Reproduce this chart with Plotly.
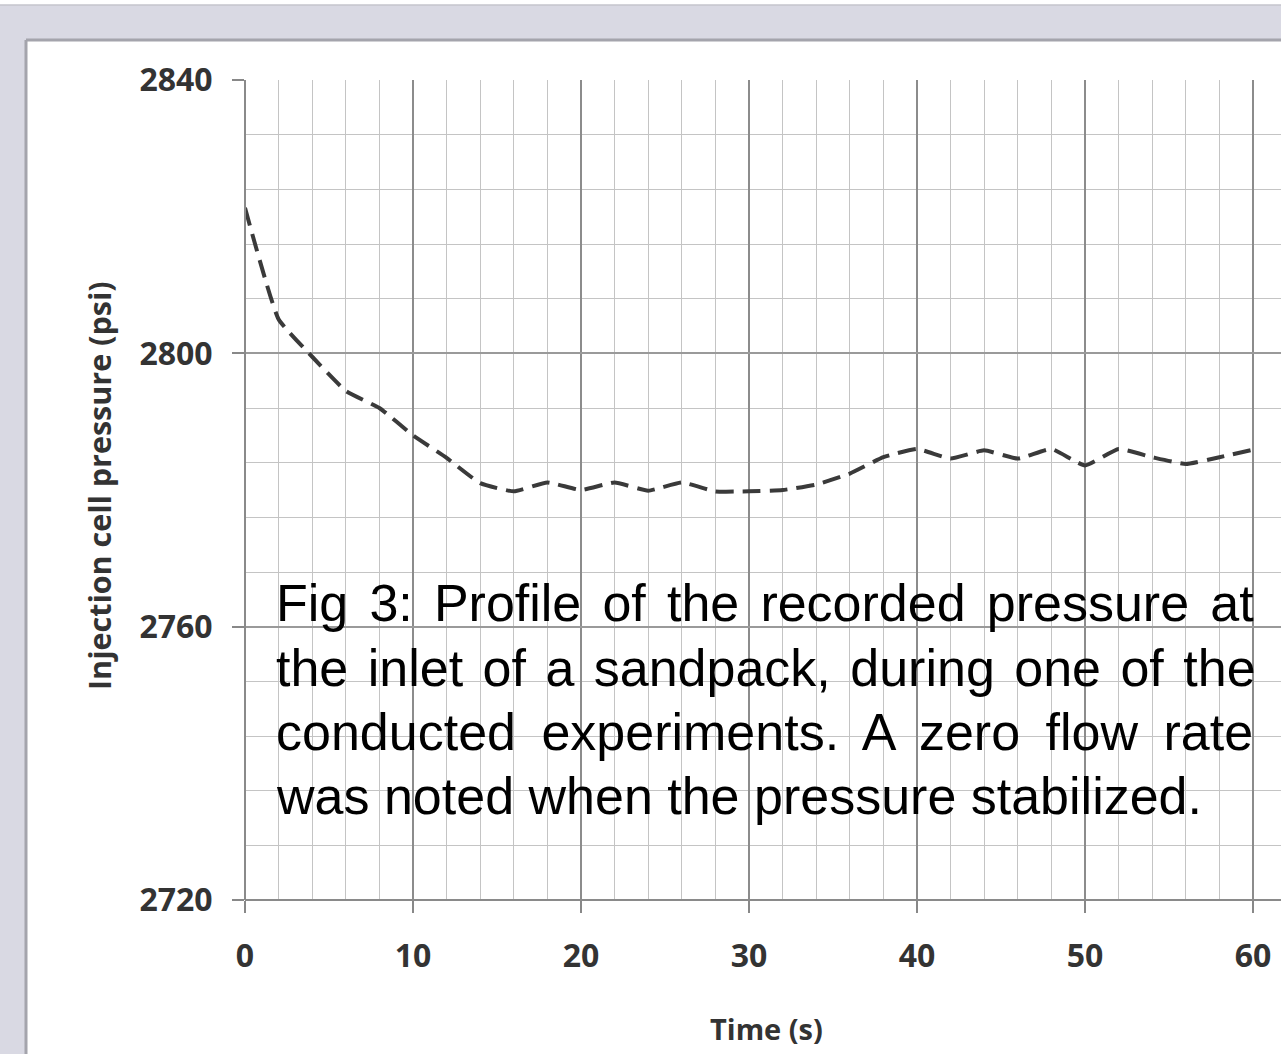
import plotly.graph_objects as go

W, H = 1281, 1054

time_s = [0, 2, 4, 6, 8, 10, 12, 14, 16, 18, 20, 22, 24, 26, 28, 30,
          32, 34, 36, 38, 40, 42, 44, 46, 48, 50, 52, 54, 56, 58, 60]
pressure_psi = [2821.3, 2805.0, 2799.5, 2794.5, 2792.0, 2788.0, 2784.7, 2781.0,
                2779.8, 2781.1, 2780.0, 2781.1, 2779.9, 2781.1, 2779.8, 2779.8,
                2780.0, 2780.8, 2782.4, 2784.8, 2786.0, 2784.6, 2785.8, 2784.6,
                2786.0, 2783.6, 2786.0, 2784.8, 2783.8, 2784.8, 2785.9]

x_ticks = [0, 10, 20, 30, 40, 50, 60]
y_ticks = [2720, 2760, 2800, 2840]

x_title = "Time (s)"
y_title = "Injection cell pressure (psi)"
caption_lines = [
    "Fig 3: Profile of the recorded pressure at",
    "the inlet of a sandpack, during one of the",
    "conducted experiments. A zero flow rate",
    "was noted when the pressure stabilized.",
]

# plot area in pixels
PL, PR, PT, PB = 245, 1281, 80, 900
X0, X1 = 0, 60 * (PR - PL) / (1253 - PL)


def px(xp):
    return xp / W


def py(yp):
    return 1 - yp / H


fig = go.Figure()
fig.add_trace(go.Scatter(
    x=time_s, y=pressure_psi, mode="lines",
    line=dict(color="#3a3a3a", width=4, dash="18px,9px", shape="spline", smoothing=0.4),
    hoverinfo="skip", showlegend=False,
))

tickfont = dict(family="Open Sans, DejaVu Sans, sans-serif", size=32, color="#333333", weight="bold")

fig.update_layout(
    width=W, height=H, autosize=False,
    margin=dict(l=0, r=0, t=0, b=0, pad=0, autoexpand=False),
    paper_bgcolor="white", plot_bgcolor="white",
    showlegend=False,
    xaxis=dict(
        domain=[px(PL), px(PR)], range=[X0, X1], automargin=False,
        tickvals=x_ticks, ticktext=[str(v) for v in x_ticks],
        ticks="outside", ticklen=12, tickwidth=1.5, tickcolor="#888888",
        tickfont=tickfont, ticklabelstandoff=16,
        showgrid=True, gridcolor="#8c8c8c", gridwidth=1.5,
        minor=dict(dtick=2, showgrid=True, gridcolor="#c4c4c4", gridwidth=1.2),
        showline=False, zeroline=False,
    ),
    yaxis=dict(
        domain=[py(PB), py(PT)], range=[2720, 2840], automargin=False,
        tickvals=y_ticks, ticktext=[str(v) for v in y_ticks],
        ticks="outside", ticklen=12, tickwidth=1.5, tickcolor="#888888",
        tickfont=tickfont, ticklabelstandoff=13,
        showgrid=True, gridcolor="#9a9a9a", gridwidth=1.5,
        minor=dict(dtick=8, showgrid=True, gridcolor="#c4c4c4", gridwidth=1.2),
        showline=False, zeroline=False,
    ),
)

shapes = [
    dict(type="rect", xref="paper", yref="paper", x0=0, x1=1, y0=py(40), y1=py(5),
         fillcolor="#d9d9e3", line=dict(width=0), layer="below"),
    dict(type="rect", xref="paper", yref="paper", x0=0, x1=px(26), y0=0, y1=py(5),
         fillcolor="#d9d9e3", line=dict(width=0), layer="below"),
    dict(type="line", xref="paper", yref="paper", x0=0, x1=1, y0=py(5), y1=py(5),
         line=dict(color="#c4c4cc", width=1.5)),
    dict(type="line", xref="paper", yref="paper", x0=px(26), x1=1, y0=py(40), y1=py(40),
         line=dict(color="#a4a4ac", width=3)),
    dict(type="line", xref="paper", yref="paper", x0=px(26), x1=px(26), y0=0, y1=py(40),
         line=dict(color="#a4a4ac", width=3)),
    dict(type="line", xref="paper", yref="paper", x0=px(PL), x1=1, y0=py(PB), y1=py(PB),
         line=dict(color="#8a8a8a", width=2)),
    dict(type="line", xref="paper", yref="paper", x0=px(PL), x1=px(PL), y0=py(PB), y1=py(PT),
         line=dict(color="#8a8a8a", width=2)),
]
fig.update_layout(shapes=shapes)

annotations = [
    dict(text=y_title, xref="paper", yref="paper", x=px(99), y=py(486),
         textangle=-90, showarrow=False, xanchor="center", yanchor="middle",
         font=dict(family="Open Sans, DejaVu Sans, sans-serif", size=30.5, color="#333333", weight="bold")),
    dict(text=x_title, xref="paper", yref="paper", x=px(766), y=py(1028),
         showarrow=False, xanchor="center", yanchor="middle",
         font=dict(family="Open Sans, DejaVu Sans, sans-serif", size=29, color="#333333", weight="bold")),
]
line_centers = [603, 668, 732, 796]
word_gaps = [6.7, 5.0, 11.0, 0]
for txt, yc, gap in zip(caption_lines, line_centers, word_gaps):
    annotations.append(dict(
        text=f'<span style="word-spacing:{gap}px">{txt}</span>',
        xref="paper", yref="paper", x=px(274), y=py(yc),
        showarrow=False, xanchor="left", yanchor="middle",
        font=dict(family="Liberation Sans, Arial, sans-serif", size=52, color="#000000"),
    ))
fig.update_layout(annotations=annotations)

fig.write_html(
    "out.html",
    config={"displayModeBar": False, "responsive": False},
    post_script="document.body.style.margin='0';document.body.style.padding='0';"
                "document.documentElement.style.overflow='hidden';",
)
